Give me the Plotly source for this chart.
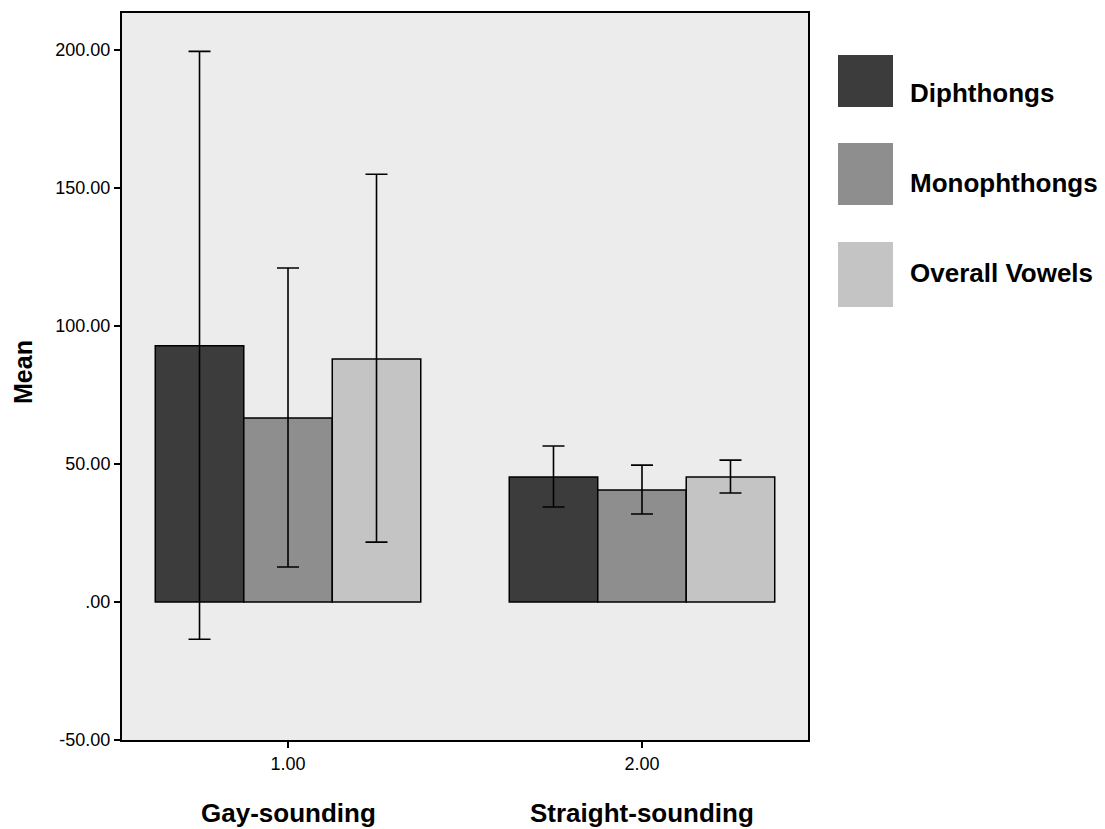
import plotly.graph_objects as go

groups = [1.0, 2.0]
group_tick_labels = ["1.00", "2.00"]
group_names = ["Gay-sounding", "Straight-sounding"]
series_names = ["Diphthongs", "Monophthongs", "Overall Vowels"]
means = {
    "Diphthongs": [92.8, 45.3],
    "Monophthongs": [66.7, 40.6],
    "Overall Vowels": [88.0, 45.3],
}
ci_upper = {
    "Diphthongs": [199.5, 56.5],
    "Monophthongs": [121.0, 49.6],
    "Overall Vowels": [155.0, 51.4],
}
ci_lower = {
    "Diphthongs": [-13.5, 34.4],
    "Monophthongs": [12.7, 31.9],
    "Overall Vowels": [21.7, 39.5],
}
colors = {"Diphthongs": "#3c3c3c", "Monophthongs": "#8e8e8e", "Overall Vowels": "#c4c4c4"}
y_ticks = [-50, 0, 50, 100, 150, 200]
y_tick_labels = ["-50.00", ".00", "50.00", "100.00", "150.00", "200.00"]

L, R, T, B = 122, 808, 13, 740
PW, PH = R - L, B - T


def px(x):
    return (x - L) / PW


def py(y):
    return (B - y) / PH


fig = go.Figure()
for name in series_names:
    m = means[name]
    fig.add_trace(go.Bar(
        x=groups, y=m, name=name,
        marker=dict(color=colors[name], line=dict(color="black", width=1.5)),
        error_y=dict(type="data", symmetric=False,
                     array=[u - v for u, v in zip(ci_upper[name], m)],
                     arrayminus=[v - l for v, l in zip(m, ci_lower[name])],
                     color="black", thickness=1.6, width=11),
        showlegend=False,
    ))

fig.update_layout(
    width=1105, height=829,
    margin=dict(l=L, r=1105 - R, t=T, b=829 - B),
    paper_bgcolor="white", plot_bgcolor="#ececec",
    barmode="group", bargap=0.25, bargroupgap=0,
    font=dict(family="Arial, Liberation Sans, sans-serif", color="black", size=18),
)
fig.update_xaxes(range=[0.531, 2.469], tickvals=groups, ticktext=group_tick_labels,
                 ticks="outside", ticklen=6, tickwidth=1.5, tickcolor="black",
                 showline=True, linecolor="black", linewidth=2, mirror=True,
                 showgrid=False, zeroline=False, tickfont=dict(size=18))
fig.update_yaxes(range=[-50, 213.4], tickvals=y_ticks, ticktext=y_tick_labels,
                 ticks="outside", ticklen=6, tickwidth=1.5, tickcolor="black",
                 showline=True, linecolor="black", linewidth=2, mirror=True,
                 showgrid=False, zeroline=False, tickfont=dict(size=18))

# y axis title
fig.add_annotation(x=px(23), y=py(372), xref="paper", yref="paper",
                   text="<b>Mean</b>", showarrow=False, textangle=-90,
                   font=dict(size=25), xanchor="center", yanchor="middle")

# group labels below axis
for gx, gname in zip(groups, group_names):
    fig.add_annotation(x=gx, y=py(813), xref="x", yref="paper",
                       text="<b>" + gname + "</b>", showarrow=False,
                       font=dict(size=26), xanchor="center", yanchor="middle")

# legend drawn manually
leg_boxes = [(55, 107), (143, 205), (242, 307)]
leg_text_y = [93, 183, 273]
for name, (y0, y1), ty in zip(series_names, leg_boxes, leg_text_y):
    fig.add_shape(type="rect", xref="paper", yref="paper",
                  x0=px(838), x1=px(893), y0=py(y1), y1=py(y0),
                  fillcolor=colors[name], line=dict(width=0))
    fig.add_annotation(x=px(908), y=py(ty), xref="paper", yref="paper",
                       text="<b>" + name + "</b>", showarrow=False,
                       font=dict(size=26), xanchor="left", yanchor="middle")

fig.write_html("out.html")
